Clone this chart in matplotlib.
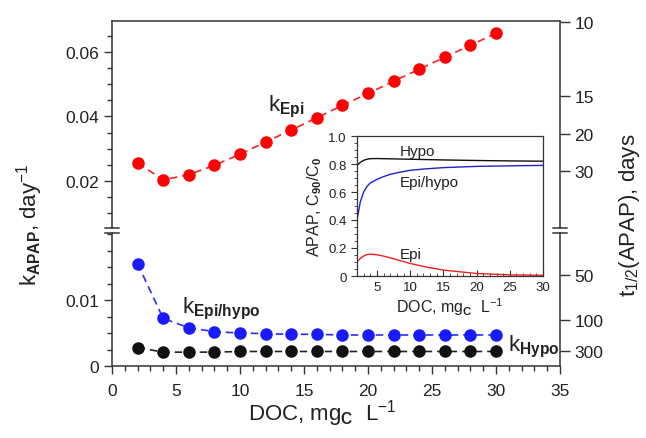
import numpy as np
import matplotlib
matplotlib.use("Agg")
import matplotlib.pyplot as plt
from matplotlib.lines import Line2D
from matplotlib.ticker import MultipleLocator, FixedLocator

# fonts
plt.rcParams['font.family'] = ['Liberation Sans', 'DejaVu Sans']
plt.rcParams['mathtext.fontset'] = 'custom'
plt.rcParams['mathtext.rm'] = 'Liberation Sans'
plt.rcParams['mathtext.it'] = 'Liberation Sans:italic'
plt.rcParams['mathtext.bf'] = 'Liberation Sans:bold'
plt.rcParams['mathtext.default'] = 'regular'

# data: first-order rate constants vs DOC
doc = [2, 4, 6, 8, 10, 12, 14, 16, 18, 20, 22, 24, 26, 28, 30]
k_epi = [0.0256, 0.0204, 0.0220, 0.0249, 0.0283, 0.0321, 0.0358, 0.0396,
         0.0434, 0.0471, 0.0509, 0.0546, 0.0583, 0.0620, 0.0657]
k_epi_hypo = [0.0155, 0.0072, 0.0058, 0.0052, 0.0050, 0.0049, 0.0048, 0.0048,
              0.0047, 0.0047, 0.0047, 0.0047, 0.0047, 0.0047, 0.0047]
k_hypo = [0.0028, 0.0021, 0.0021, 0.0021, 0.0022, 0.0022, 0.0022, 0.0022,
          0.0022, 0.0022, 0.0022, 0.0022, 0.0022, 0.0022, 0.0022]

# half-life ticks on the right axis (days)
t_half_upper = [10, 15, 20, 30]
t_half_lower = [50, 100, 300]

# inset: C90/C0 vs DOC
inset_doc = [2, 2.5, 3, 3.5, 4, 5, 6, 7, 8, 10, 12, 15, 20, 25, 30]
c_hypo = [0.790, 0.812, 0.826, 0.834, 0.838, 0.839, 0.838, 0.837, 0.836,
          0.834, 0.832, 0.829, 0.825, 0.822, 0.820]
c_epi_hypo = [0.40, 0.53, 0.60, 0.64, 0.665, 0.69, 0.71, 0.726, 0.737,
              0.755, 0.764, 0.774, 0.783, 0.787, 0.790]
c_epi = [0.100, 0.125, 0.143, 0.153, 0.156, 0.152, 0.142, 0.130, 0.116,
         0.090, 0.068, 0.042, 0.018, 0.008, 0.005]

W, H = 646, 439
fig = plt.figure(figsize=(W / 100, H / 100), dpi=100)

left = 112 / W
width = 448 / W
top_px, brk_hi, brk_lo, bot_px = 22, 229, 234, 367

ax_up = fig.add_axes([left, 1 - brk_hi / H, width, (brk_hi - top_px) / H])
ax_lo = fig.add_axes([left, 1 - bot_px / H, width, (bot_px - brk_lo) / H], sharex=ax_up)

up_lim = (0.0695 - (brk_hi - top_px) / 64.7 * 0.02, 0.0695)
lo_lim = (0, (bot_px - brk_lo) / 66.0 * 0.01)

mk = dict(marker='o', markersize=8, lw=1.2, dashes=(4.5, 3), clip_on=False)
ax_up.plot(doc, k_epi, color='#ff2020', mfc='#ff0000', mec='#ff0000', **mk)
ax_lo.plot(doc, k_epi_hypo, color='#2a2aff', mfc='#1a1aff', mec='#1a1aff', **mk)
ax_lo.plot(doc, k_hypo, color='#222222', mfc='#111111', mec='#111111', **mk)

ax_up.set_ylim(*up_lim)
ax_lo.set_ylim(*lo_lim)
ax_up.set_xlim(0, 35)

for ax in (ax_up, ax_lo):
    ax.tick_params(direction='out', length=6, width=1, labelsize=12.5, colors='#333333', labelcolor='#222222')
    ax.tick_params(which='minor', direction='out', length=3.5, width=1, colors='#333333')
    for s in ax.spines.values():
        s.set_linewidth(1.1)
        s.set_color('#333333')

ax_up.spines['bottom'].set_visible(False)
ax_lo.spines['top'].set_visible(False)
ax_up.tick_params(axis='x', which='both', bottom=False, labelbottom=False)

ax_up.yaxis.set_major_locator(FixedLocator([0.02, 0.04, 0.06]))
ax_up.yaxis.set_minor_locator(MultipleLocator(0.005))
ax_up.set_yticklabels(['0.02', '0.04', '0.06'])
ax_lo.yaxis.set_major_locator(FixedLocator([0, 0.01]))
ax_lo.yaxis.set_minor_locator(MultipleLocator(0.0025))
ax_lo.set_yticklabels(['0', '0.01'])
ax_lo.xaxis.set_major_locator(MultipleLocator(5))
ax_lo.xaxis.set_minor_locator(MultipleLocator(1))
ax_lo.tick_params(axis='x', pad=6)

# right axis: half-life
for ax, th in ((ax_up, t_half_upper), (ax_lo, t_half_lower)):
    tw = ax.twinx()
    tw.set_ylim(ax.get_ylim())
    tw.set_yticks([np.log(2) / t for t in th])
    tw.set_yticklabels([str(t) for t in th])
    tw.yaxis.set_minor_locator(FixedLocator([]))
    tw.tick_params(direction='out', length=7, width=1, labelsize=12.5, colors='#333333', labelcolor='#222222')
    for s in tw.spines.values():
        s.set_visible(False)

# axis break marks
for y in (brk_hi, brk_lo):
    for x in (112, 560):
        fig.add_artist(Line2D([(x - 7) / W, (x + 7) / W], [1 - y / H, 1 - y / H],
                              transform=fig.transFigure, color='#333333', lw=1.1))

# curve labels
ax_up.text(12.2, 0.0432, r'k$_{\mathbf{Epi}}$', fontsize=16, ha='left', va='center', color='#222222')
ax_lo.text(5.5, 0.0088, r'k$_{\mathbf{Epi/hypo}}$', fontsize=16, ha='left', va='center', color='#222222')
ax_lo.text(30.9, 0.0030, r'k$_{\mathbf{Hypo}}$', fontsize=16, ha='left', va='center', color='#222222', clip_on=False)

# axis titles
fig.text(322 / W, 1 - 414 / H, r'DOC, mg$_{\mathbf{C}}$  L$^{-1}$', fontsize=16,
         ha='center', va='center', color='#222222')
fig.text(30 / W, 1 - 225 / H, r'k$_{\mathbf{APAP}}$, day$^{-1}$', fontsize=16, rotation=90,
         ha='center', va='center', color='#222222')
fig.text(629 / W, 1 - 215 / H, r't$_{1/2}$(APAP), days', fontsize=16, rotation=90,
         ha='center', va='center', color='#222222')

# inset
ins = fig.add_axes([357 / W, 1 - 277 / H, 186 / W, 140 / H])
ins.plot(inset_doc, c_hypo, color='#111111', lw=1)
ins.plot(inset_doc, c_epi_hypo, color='#2020cc', lw=1)
ins.plot(inset_doc, c_epi, color='#ee2020', lw=1)
ins.set_xlim(2, 30)
ins.set_ylim(0, 1.0)
ins.xaxis.set_major_locator(FixedLocator([5, 10, 15, 20, 25, 30]))
ins.xaxis.set_minor_locator(MultipleLocator(1))
ins.yaxis.set_major_locator(FixedLocator([0, 0.2, 0.4, 0.6, 0.8, 1.0]))
ins.set_yticklabels(['0', '0.2', '0.4', '0.6', '0.8', '1.0'])
ins.yaxis.set_minor_locator(MultipleLocator(0.05))
ins.tick_params(axis='x', which='both', direction='in', labelsize=9.5, colors='#333333', labelcolor='#222222')
ins.tick_params(axis='x', which='major', length=4)
ins.tick_params(axis='x', which='minor', length=2)
ins.tick_params(axis='y', which='both', direction='out', labelsize=9.5, colors='#333333', labelcolor='#222222')
ins.tick_params(axis='y', which='major', length=4)
ins.tick_params(axis='y', which='minor', length=2)
for s in ins.spines.values():
    s.set_linewidth(0.9)
    s.set_color('#333333')
ins.text(8.4, 0.89, 'Hypo', fontsize=11, color='#222222', va='center')
ins.text(8.4, 0.67, 'Epi/hypo', fontsize=11, color='#222222', va='center')
ins.text(8.4, 0.16, 'Epi', fontsize=11, color='#222222', va='center')
ins.set_xlabel(r'DOC, mg$_{\mathbf{C}}$  L$^{-1}$', fontsize=11.5, labelpad=2, color='#222222')
ins.set_ylabel(r'APAP, C$_{\mathbf{90}}$/C$_{\mathbf{0}}$', fontsize=11.5, labelpad=3, color='#222222')

fig.savefig('out.png', dpi=100)
